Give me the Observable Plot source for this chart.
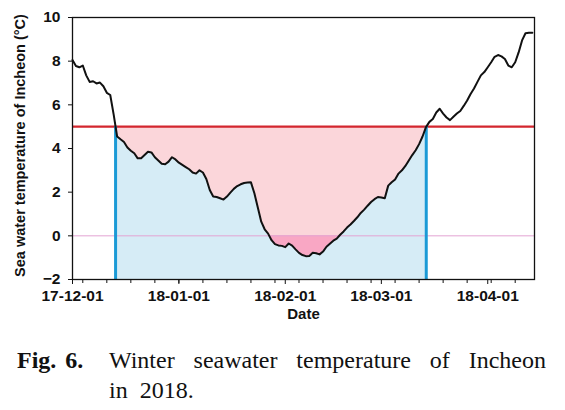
<!DOCTYPE html>
<html><head><meta charset="utf-8">
<script src="https://cdn.jsdelivr.net/npm/d3@7"></script>
<script src="https://cdn.jsdelivr.net/npm/@observablehq/plot@0.6"></script>
<style>
body{margin:0;background:#fff;width:565px;height:410px;overflow:hidden;position:relative}
#chart{position:absolute;left:0;top:0}
#caption{position:absolute;left:17px;top:345px;font-family:"Liberation Serif","Times New Roman",serif;font-size:24px;line-height:30px;color:#111;display:flex}
#caption .lab{font-weight:bold;width:92px;word-spacing:3px;white-space:nowrap}
#caption .txt{width:437px}
#caption .l1{text-align:justify;text-align-last:justify;white-space:nowrap}
#caption .l2{word-spacing:6px}
</style></head><body>
<div id="chart"></div>
<div id="caption"><div class="lab">Fig. 6.</div><div class="txt"><div class="l1">Winter seawater temperature of Incheon</div><div class="l2">in 2018.</div></div></div>
<script>
const startDate = "2017-12-01";
const endDate = "2018-04-14T15:00";
// daily sea water temperature (°C), from 2017-12-01
const temps = [
  8.05, 7.78, 7.72, 7.80, 7.35, 7.05, 7.08, 6.98, 7.02, 6.85,
  6.55, 6.45, 5.55, 4.55, 4.42, 4.30, 4.05, 3.90, 3.78, 3.55,
  3.55, 3.70, 3.85, 3.82, 3.60, 3.45, 3.30, 3.28, 3.40, 3.60,
  3.50, 3.35, 3.25, 3.15, 3.05, 2.90, 2.85, 3.00, 2.90, 2.60,
  2.10, 1.80, 1.78, 1.72, 1.66, 1.80, 1.98, 2.15, 2.28, 2.36,
  2.42, 2.44, 2.45, 1.95, 1.30, 0.65, 0.30, 0.10, -0.20, -0.38,
  -0.44, -0.46, -0.52, -0.35, -0.45, -0.62, -0.78, -0.88, -0.93, -0.92,
  -0.78, -0.80, -0.85, -0.72, -0.50, -0.36, -0.22, -0.13, 0.05, 0.20,
  0.38, 0.52, 0.68, 0.85, 1.05, 1.20, 1.38, 1.55, 1.68, 1.78,
  1.76, 1.72, 2.30, 2.45, 2.58, 2.85, 3.00, 3.20, 3.45, 3.70,
  3.92, 4.20, 4.55, 4.98, 5.22, 5.35, 5.65, 5.82, 5.60, 5.42,
  5.30, 5.45, 5.60, 5.72, 5.95, 6.20, 6.50, 6.75, 7.05, 7.35,
  7.50, 7.72, 7.95, 8.20, 8.28, 8.22, 8.10, 7.80, 7.72, 7.95,
  8.40, 8.95, 9.28, 9.30, 9.30
];
const threshold = 5;
const yTicks = [-2, 0, 2, 4, 6, 8, 10];
const xTickLabels = ["17-12-01", "18-01-01", "18-02-01", "18-03-01", "18-04-01"];
const yLabel = "Sea water temperature of Incheon (°C)";
const xLabel = "Date";

const t0 = new Date(startDate + "T00:00Z");
const tEnd = new Date(endDate + "Z");
const series = temps.map((v, i) => ({date: d3.utcDay.offset(t0, i), v}));
const parseTick = d3.utcParse("%y-%m-%d");
const majorDates = xTickLabels.map(parseTick);
const mondays = d3.utcMonday.range(t0, tEnd);

function cross(a, b) {
  const t = (threshold - a.v) / (b.v - a.v);
  return {date: new Date(+a.date + t * (b.date - a.date)), v: threshold};
}
const i1 = series.findIndex((d, i) => i > 0 && series[i - 1].v >= threshold && d.v < threshold);
const i2 = series.findIndex((d, i) => i > i1 && series[i - 1].v < threshold && d.v >= threshold);
const c1 = cross(series[i1 - 1], series[i1]);
const c2 = cross(series[i2 - 1], series[i2]);
const winter = [c1, ...series.slice(i1, i2), c2];

const chart = Plot.plot({
  width: 565, height: 330,
  marginLeft: 72, marginRight: 31, marginTop: 17, marginBottom: 51,
  style: {fontFamily: "'Liberation Sans', Arial, sans-serif", fontSize: "15.5px", fontWeight: "bold", color: "#111", background: "#fff"},
  x: {type: "utc", domain: [t0, tEnd]},
  y: {domain: [-2, 10]},
  marks: [
    Plot.areaY(winter, {x: "date", y1: "v", y2: threshold, fill: "#fbd6da"}),
    Plot.areaY(winter, {x: "date", y1: "v", y2: 0, fill: "#f9a7c4"}),
    Plot.areaY(winter, {x: "date", y1: -2, y2: "v", fill: "#d6ecf6"}),
    Plot.ruleY([0], {stroke: "#e3a3d3", strokeWidth: 1}),
    Plot.ruleY([threshold], {stroke: "#d3262e", strokeWidth: 2.2}),
    Plot.ruleX([c1.date, c2.date], {y1: -2, y2: threshold, stroke: "#1b9ad6", strokeWidth: 3}),
    Plot.lineY(series, {x: "date", y: "v", stroke: "#111", strokeWidth: 2}),
    Plot.frame({stroke: "#111", strokeWidth: 1.3}),
    Plot.axisX({ticks: mondays, tickFormat: () => "", tickSize: 4, label: null}),
    Plot.axisX({ticks: majorDates, tickFormat: d3.utcFormat("%y-%m-%d"), tickSize: 5, tickPadding: 5, label: null}),
    Plot.axisY({ticks: yTicks, tickSize: 4, tickPadding: 8, label: null}),
    Plot.text([xLabel], {text: d => d, frameAnchor: "bottom", dy: 39, fontWeight: "bold", fontSize: 15}),
    Plot.text([yLabel], {text: d => d, frameAnchor: "left", textAnchor: "middle", dx: -52, dy: -3, rotate: -90, fontWeight: "bold", fontSize: 14.5})
  ]
});
document.getElementById("chart").append(chart);
</script>
</body></html>
